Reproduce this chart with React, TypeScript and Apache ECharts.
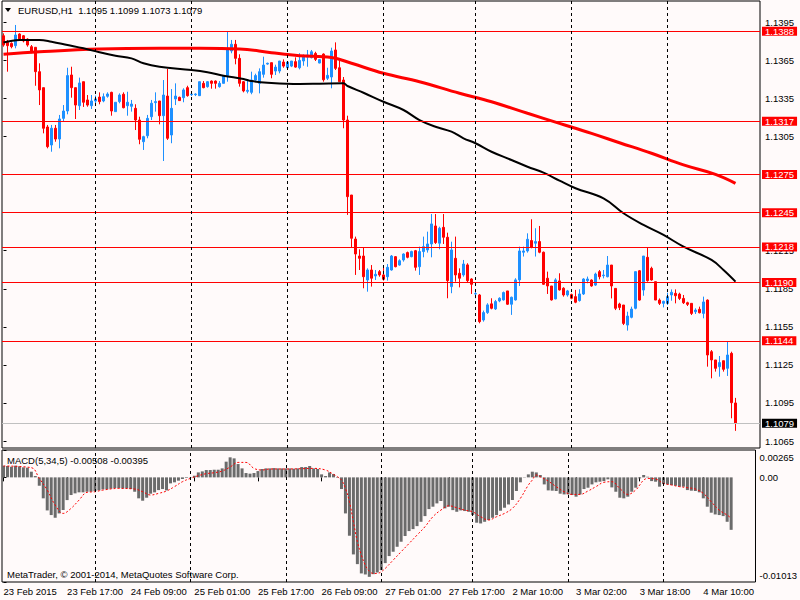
import React, { useEffect, useRef } from 'react';
import * as echarts from 'echarts';

const FONT = '"Liberation Sans", Arial, sans-serif';

// Hourly EURUSD candles (bar index 0 = 23 Feb 01:00)
const opens = [
  1.13844, 1.13792, 1.13784, 1.13766, 1.13858, 1.13844, 1.13818, 1.13758, 1.13753, 1.13561,
  1.13435, 1.13125, 1.12983, 1.13115, 1.13030, 1.13193, 1.13251, 1.13535, 1.13435, 1.13293,
  1.13482, 1.13338, 1.13293, 1.13330, 1.13361, 1.13330, 1.13367, 1.13398, 1.13246, 1.13325,
  1.13383, 1.13293, 1.13288, 1.13272, 1.13180, 1.13009, 1.13056, 1.13206, 1.13317, 1.13330,
  1.13214, 1.13369, 1.13062, 1.13346, 1.13359, 1.13356, 1.13435, 1.13380, 1.13380, 1.13372,
  1.13469, 1.13443, 1.13487, 1.13487, 1.13443, 1.13469, 1.13530, 1.13724, 1.13777, 1.13666,
  1.13482, 1.13406, 1.13398, 1.13495, 1.13469, 1.13540, 1.13621, 1.13632, 1.13566, 1.13566,
  1.13637, 1.13592, 1.13605, 1.13640, 1.13592, 1.13645, 1.13676, 1.13671, 1.13705, 1.13629,
  1.13700, 1.13509, 1.13519, 1.13732, 1.13592, 1.13495, 1.13180, 1.12589, 1.12242, 1.12108,
  1.12108, 1.11919, 1.11998, 1.11951, 1.11985, 1.11959, 1.11945, 1.11998, 1.12103, 1.12037,
  1.12077, 1.12135, 1.12103, 1.12150, 1.12024, 1.12143, 1.12156, 1.12203, 1.12345, 1.12209,
  1.12334, 1.12256, 1.11867, 1.12090, 1.11972, 1.11959, 1.12038, 1.11927, 1.11809, 1.11801,
  1.11604, 1.11662, 1.11731, 1.11691, 1.11754, 1.11762, 1.11833, 1.11728, 1.11762, 1.11920,
  1.12138, 1.12148, 1.12230, 1.12209, 1.12222, 1.12138, 1.11933, 1.11872, 1.11770, 1.11912,
  1.11854, 1.11801, 1.11804, 1.11788, 1.11757, 1.11809, 1.11914, 1.11919, 1.11879, 1.11985,
  1.11953, 1.11945, 1.12037, 1.11853, 1.11730, 1.11722, 1.11564, 1.11625, 1.11696, 1.11992,
  1.11840, 1.12098, 1.12011, 1.11906, 1.11761, 1.11735, 1.11735, 1.11801, 1.11814, 1.11808,
  1.11774, 1.11740, 1.11735, 1.11669, 1.11688, 1.11656, 1.11761, 1.11354, 1.11289, 1.11236,
  1.11283, 1.11223, 1.11341, 1.10950,
];
const highs = [
  1.13863, 1.13811, 1.13792, 1.13929, 1.13863, 1.13850, 1.13824, 1.13771, 1.13753, 1.13627,
  1.13435, 1.13141, 1.13141, 1.13141, 1.13220, 1.13298, 1.13592, 1.13600, 1.13435, 1.13514,
  1.13482, 1.13377, 1.13377, 1.13372, 1.13398, 1.13390, 1.13398, 1.13403, 1.13320, 1.13390,
  1.13398, 1.13403, 1.13338, 1.13304, 1.13206, 1.13056, 1.13220, 1.13338, 1.13398, 1.13330,
  1.13495, 1.13582, 1.13424, 1.13469, 1.13364, 1.13430, 1.13450, 1.13398, 1.13390, 1.13482,
  1.13487, 1.13487, 1.13492, 1.13492, 1.13487, 1.13535, 1.13881, 1.13811, 1.13811, 1.13698,
  1.13487, 1.13495, 1.13561, 1.13545, 1.13587, 1.13679, 1.13632, 1.13632, 1.13616, 1.13645,
  1.13658, 1.13637, 1.13645, 1.13674, 1.13706, 1.13697, 1.13732, 1.13732, 1.13718, 1.13658,
  1.13705, 1.13592, 1.13750, 1.13792, 1.13666, 1.13519, 1.13214, 1.12589, 1.12261, 1.12161,
  1.12177, 1.12011, 1.12037, 1.11998, 1.11998, 1.12030, 1.12045, 1.12116, 1.12108, 1.12082,
  1.12129, 1.12143, 1.12150, 1.12156, 1.12182, 1.12261, 1.12300, 1.12439, 1.12439, 1.12339,
  1.12439, 1.12292, 1.12221, 1.12261, 1.12011, 1.12077, 1.12051, 1.11933, 1.11841, 1.11809,
  1.11678, 1.11736, 1.11775, 1.11762, 1.11783, 1.11828, 1.11833, 1.11788, 1.11933, 1.12182,
  1.12182, 1.12287, 1.12398, 1.12327, 1.12345, 1.12143, 1.11985, 1.11872, 1.11933, 1.11972,
  1.11862, 1.11841, 1.11812, 1.11841, 1.11846, 1.11933, 1.11946, 1.11924, 1.11977, 1.11998,
  1.11998, 1.12108, 1.12037, 1.11853, 1.11740, 1.11722, 1.11669, 1.11709, 1.11985, 1.11998,
  1.12108, 1.12176, 1.12024, 1.11906, 1.11774, 1.11756, 1.11819, 1.11845, 1.11845, 1.11819,
  1.11801, 1.11748, 1.11735, 1.11696, 1.11709, 1.11788, 1.11766, 1.11367, 1.11289, 1.11320,
  1.11283, 1.11433, 1.11354, 1.10990,
];
const lows = [
  1.13758, 1.13561, 1.13745, 1.13745, 1.13811, 1.13792, 1.13758, 1.13706, 1.13450, 1.13298,
  1.13075, 1.12957, 1.12930, 1.13009, 1.12957, 1.13167, 1.13225, 1.13356, 1.13188, 1.13259,
  1.13283, 1.13285, 1.13267, 1.13293, 1.13304, 1.13320, 1.13356, 1.13214, 1.13246, 1.13312,
  1.13272, 1.13214, 1.13246, 1.13101, 1.12989, 1.12944, 1.13036, 1.13180, 1.13246, 1.13146,
  1.12857, 1.13023, 1.12997, 1.13298, 1.13330, 1.13320, 1.13364, 1.13369, 1.13369, 1.13369,
  1.13430, 1.13435, 1.13427, 1.13427, 1.13435, 1.13469, 1.13482, 1.13706, 1.13619, 1.13443,
  1.13398, 1.13390, 1.13383, 1.13482, 1.13390, 1.13514, 1.13616, 1.13509, 1.13535, 1.13548,
  1.13592, 1.13579, 1.13597, 1.13592, 1.13579, 1.13608, 1.13600, 1.13666, 1.13645, 1.13627,
  1.13482, 1.13495, 1.13430, 1.13574, 1.13482, 1.13115, 1.12432, 1.12177, 1.11959, 1.11998,
  1.11854, 1.11827, 1.11867, 1.11919, 1.11945, 1.11914, 1.11914, 1.11993, 1.12019, 1.12032,
  1.12064, 1.12090, 1.12098, 1.11993, 1.11959, 1.12098, 1.12135, 1.12098, 1.12203, 1.12161,
  1.12203, 1.11775, 1.11815, 1.11906, 1.11861, 1.11945, 1.11899, 1.11809, 1.11775, 1.11578,
  1.11591, 1.11652, 1.11688, 1.11683, 1.11744, 1.11757, 1.11723, 1.11644, 1.11757, 1.11872,
  1.12104, 1.12135, 1.12169, 1.12104, 1.12130, 1.11880, 1.11809, 1.11757, 1.11767, 1.11836,
  1.11788, 1.11788, 1.11767, 1.11736, 1.11749, 1.11801, 1.11893, 1.11866, 1.11872, 1.11924,
  1.11932, 1.11940, 1.11774, 1.11682, 1.11682, 1.11564, 1.11520, 1.11617, 1.11688, 1.11756,
  1.11795, 1.11906, 1.11914, 1.11761, 1.11722, 1.11703, 1.11722, 1.11756, 1.11735, 1.11761,
  1.11730, 1.11714, 1.11643, 1.11651, 1.11656, 1.11617, 1.11236, 1.11144, 1.11197, 1.11157,
  1.11197, 1.11163, 1.10829, 1.10730,
];
const closes = [
  1.13771, 1.13766, 1.13758, 1.13850, 1.13818, 1.13803, 1.13771, 1.13724, 1.13561, 1.13417,
  1.13115, 1.12970, 1.13115, 1.13030, 1.13188, 1.13251, 1.13530, 1.13435, 1.13298, 1.13472,
  1.13320, 1.13298, 1.13330, 1.13346, 1.13325, 1.13364, 1.13385, 1.13251, 1.13320, 1.13377,
  1.13277, 1.13320, 1.13306, 1.13180, 1.13028, 1.13049, 1.13193, 1.13312, 1.13325, 1.13214,
  1.13377, 1.13036, 1.13272, 1.13369, 1.13333, 1.13417, 1.13372, 1.13385, 1.13385, 1.13482,
  1.13435, 1.13482, 1.13469, 1.13469, 1.13469, 1.13530, 1.13732, 1.13777, 1.13666, 1.13469,
  1.13409, 1.13414, 1.13495, 1.13530, 1.13561, 1.13613, 1.13627, 1.13540, 1.13597, 1.13645,
  1.13605, 1.13637, 1.13645, 1.13597, 1.13650, 1.13684, 1.13692, 1.13718, 1.13658, 1.13656,
  1.13497, 1.13532, 1.13724, 1.13587, 1.13482, 1.13180, 1.12576, 1.12248, 1.12124, 1.12090,
  1.11945, 1.11998, 1.11933, 1.11964, 1.11959, 1.11925, 1.12019, 1.12108, 1.12024, 1.12071,
  1.12124, 1.12098, 1.12143, 1.12019, 1.12143, 1.12182, 1.12203, 1.12361, 1.12214, 1.12327,
  1.12256, 1.11914, 1.12156, 1.11959, 1.11933, 1.12045, 1.11914, 1.11885, 1.11812, 1.11591,
  1.11662, 1.11723, 1.11696, 1.11749, 1.11775, 1.11820, 1.11728, 1.11783, 1.11920, 1.12148,
  1.12148, 1.12240, 1.12177, 1.12222, 1.12138, 1.11885, 1.11872, 1.11762, 1.11920, 1.11841,
  1.11801, 1.11833, 1.11775, 1.11744, 1.11809, 1.11927, 1.11927, 1.11872, 1.11966, 1.11945,
  1.11958, 1.12037, 1.11872, 1.11696, 1.11703, 1.11577, 1.11635, 1.11690, 1.11985, 1.11761,
  1.12108, 1.11914, 1.11919, 1.11761, 1.11735, 1.11751, 1.11788, 1.11822, 1.11795, 1.11774,
  1.11740, 1.11727, 1.11656, 1.11682, 1.11661, 1.11746, 1.11328, 1.11289, 1.11223, 1.11268,
  1.11215, 1.11328, 1.10952, 1.10790,
];

// Moving averages, read at sample bars
const redMaBars = [0, 9, 24, 39, 49, 59, 67, 74, 82, 87, 95, 104, 114, 122, 131, 139, 147, 154, 162, 170, 178, 183];
const redMaValues = [1.13698, 1.13718, 1.13740, 1.13745, 1.13745, 1.13740, 1.13710, 1.13687, 1.13673, 1.13627, 1.13548, 1.13482, 1.13391, 1.13324, 1.13233, 1.13154, 1.13075, 1.13001, 1.12918, 1.12826, 1.12752, 1.12681];
const blackMaBars = [0, 4, 9, 12, 16, 20, 24, 28, 32, 35, 39, 47, 51, 55, 60, 62, 66, 74, 79, 85, 86, 90, 95, 100, 104, 108, 112, 115, 118, 122, 127, 131, 135, 139, 143, 150, 155, 160, 165, 170, 177, 180, 183];
const blackMaValues = [1.13791, 1.13811, 1.13811, 1.13797, 1.13771, 1.13745, 1.13714, 1.13687, 1.13666, 1.13627, 1.13600, 1.13574, 1.13556, 1.13529, 1.13503, 1.13487, 1.13474, 1.13464, 1.13466, 1.13469, 1.13448, 1.13395, 1.13324, 1.13259, 1.13180, 1.13127, 1.13088, 1.13036, 1.12997, 1.12930, 1.12865, 1.12812, 1.12765, 1.12702, 1.12642, 1.12563, 1.12445, 1.12353, 1.12274, 1.12182, 1.12077, 1.11998, 1.11906];

// MACD(5,34,5) histogram, one value per bar
const macdHist = [
  0.00113, 0.00110, 0.00103, 0.00113, 0.00107, 0.00097, 0.00094, 0.00055, 0.00013, -0.00081,
  -0.00203, -0.00320, -0.00365, -0.00391, -0.00349, -0.00317, -0.00220, -0.00171, -0.00155, -0.00145,
  -0.00145, -0.00139, -0.00139, -0.00132, -0.00126, -0.00116, -0.00116, -0.00110, -0.00103, -0.00103,
  -0.00107, -0.00107, -0.00113, -0.00139, -0.00203, -0.00226, -0.00197, -0.00158, -0.00145, -0.00123,
  -0.00113, -0.00126, -0.00058, -0.00048, -0.00032, -0.00016, -0.00006, 0.00003, 0.00016, 0.00048,
  0.00058, 0.00071, 0.00071, 0.00074, 0.00074, 0.00087, 0.00152, 0.00194, 0.00184, 0.00129,
  0.00087, 0.00042, 0.00036, 0.00042, 0.00061, 0.00081, 0.00087, 0.00087, 0.00090, 0.00087,
  0.00087, 0.00087, 0.00087, 0.00084, 0.00087, 0.00100, 0.00100, 0.00110, 0.00087, 0.00081,
  0.00029, 0.00013, 0.00048, 0.00032, -0.00005, -0.00113, -0.00349, -0.00565, -0.00746, -0.00840,
  -0.00930, -0.00940, -0.00963, -0.00937, -0.00921, -0.00898, -0.00830, -0.00762, -0.00720, -0.00672,
  -0.00623, -0.00568, -0.00520, -0.00501, -0.00472, -0.00430, -0.00375, -0.00307, -0.00284, -0.00252,
  -0.00229, -0.00300, -0.00284, -0.00317, -0.00333, -0.00320, -0.00326, -0.00333, -0.00365, -0.00439,
  -0.00446, -0.00430, -0.00413, -0.00391, -0.00365, -0.00323, -0.00294, -0.00262, -0.00220, -0.00132,
  -0.00048, -0.00003, 0.00029, 0.00055, 0.00048, 0.00023, -0.00068, -0.00126, -0.00129, -0.00132,
  -0.00158, -0.00165, -0.00165, -0.00171, -0.00187, -0.00165, -0.00113, -0.00100, -0.00068, -0.00048,
  -0.00042, -0.00036, -0.00019, -0.00097, -0.00139, -0.00197, -0.00203, -0.00187, -0.00139, -0.00100,
  -0.00010, 0.00023, 0.00006, -0.00036, -0.00042, -0.00090, -0.00065, -0.00068, -0.00074, -0.00081,
  -0.00090, -0.00090, -0.00123, -0.00129, -0.00132, -0.00145, -0.00203, -0.00284, -0.00342, -0.00359,
  -0.00365, -0.00375, -0.00430, -0.00508,
];
const signalBars = [0, 7, 9, 11, 13, 15, 17, 19, 21, 23, 25, 29, 33, 35, 37, 39, 41, 43, 45, 47, 49, 51, 53, 55, 57, 59, 61, 63, 65, 67, 71, 75, 78, 81, 83, 84, 85, 86, 87, 88, 89, 90, 91, 92, 93, 94, 95, 96, 98, 100, 102, 104, 106, 108, 110, 112, 114, 116, 118, 120, 122, 124, 126, 128, 130, 132, 133, 134, 135, 137, 139, 141, 143, 145, 147, 149, 151, 153, 155, 157, 159, 160, 161, 162, 164, 166, 168, 170, 172, 174, 176, 178, 180, 182, 183];
const signalValues = [0.00110, 0.00094, -0.00010, -0.00123, -0.00268, -0.00349, -0.00300, -0.00220, -0.00145, -0.00139, -0.00123, -0.00107, -0.00113, -0.00139, -0.00171, -0.00155, -0.00132, -0.00090, -0.00042, -0.00010, 0.00016, 0.00036, 0.00045, 0.00061, 0.00100, 0.00145, 0.00145, 0.00087, 0.00071, 0.00081, 0.00081, 0.00084, 0.00087, 0.00071, 0.00029, 0.00006, -0.00026, -0.00107, -0.00236, -0.00430, -0.00623, -0.00752, -0.00850, -0.00908, -0.00930, -0.00930, -0.00914, -0.00882, -0.00801, -0.00720, -0.00640, -0.00559, -0.00478, -0.00381, -0.00317, -0.00275, -0.00294, -0.00317, -0.00333, -0.00381, -0.00413, -0.00381, -0.00349, -0.00300, -0.00203, -0.00074, -0.00026, 0.00023, 0.00006, -0.00036, -0.00090, -0.00139, -0.00165, -0.00165, -0.00132, -0.00090, -0.00048, -0.00042, -0.00107, -0.00165, -0.00123, -0.00074, -0.00026, -0.00010, -0.00016, -0.00058, -0.00074, -0.00090, -0.00100, -0.00113, -0.00155, -0.00236, -0.00317, -0.00365, -0.00395];

// Axis texts
const timeLabels = ['23 Feb 2015', '23 Feb 17:00', '24 Feb 09:00', '25 Feb 01:00', '25 Feb 17:00', '26 Feb 09:00', '27 Feb 01:00', '27 Feb 17:00', '2 Mar 10:00', '3 Mar 02:00', '3 Mar 18:00', '4 Mar 10:00'];
const timeLabelBars = [0, 16, 32, 48, 64, 80, 96, 112, 128, 144, 160, 176];
const daySeparatorBars = [23, 47, 71, 95, 118, 142, 166];
const priceTicks = [1.1065, 1.1095, 1.1125, 1.1155, 1.1185, 1.1215, 1.1245, 1.1275, 1.1305, 1.1335, 1.1365, 1.1395];
const redLevels = [1.1388, 1.1317, 1.1275, 1.1245, 1.1218, 1.1190, 1.1144];
const bidLevel = 1.1079;
const macdTicks = [0.00265, 0, -0.01013];

export default function App() {
  const ref = useRef<HTMLDivElement>(null);
  useEffect(() => {
    const chart = echarts.init(ref.current!, null, { renderer: 'svg' });
    const candleData = opens.map((o, i) => [i, o, closes[i], lows[i], highs[i]]);
    const xMin = -0.375;
    const xMax = 189.125;
    const txt = { fontFamily: FONT, fontSize: 9.5, color: '#000' };
    const sepLines = daySeparatorBars.map((b) => ({
      xAxis: b,
      lineStyle: { color: '#000', width: 1, type: [3, 3] },
      label: { show: false },
    }));
    const levelLabel = (v: number, bg: string) => ({
      show: true,
      position: 'end',
      distance: 2,
      formatter: () => v.toFixed(4),
      backgroundColor: bg,
      color: '#fff',
      padding: [0, 3, 0, 3],
      fontFamily: FONT,
      fontSize: 9.5,
      lineHeight: 9,
    });
    const levelLines = redLevels.map((v) => ({
      yAxis: v,
      lineStyle: { color: '#FF0000', width: 1, type: 'solid' },
      label: levelLabel(v, '#FF0000'),
    }));
    const bidLine = {
      yAxis: bidLevel,
      lineStyle: { color: '#C0C0C0', width: 1, type: 'solid' },
      label: levelLabel(bidLevel, '#000000'),
    };

    chart.setOption({
      animation: false,
      backgroundColor: '#FFFAFA',
      title: [
        { text: 'EURUSD,H1  1.1095 1.1099 1.1073 1.1079', left: 18, top: 5, padding: 0, textStyle: { ...txt, fontWeight: 'normal' } },
        { text: 'MACD(5,34,5) -0.00508 -0.00395', left: 7, top: 455, padding: 0, textStyle: { ...txt, fontWeight: 'normal' } },
        { text: 'MetaTrader, © 2001-2014, MetaQuotes Software Corp.', left: 7, top: 569, padding: 0, textStyle: { ...txt, fontWeight: 'normal' } },
      ],
      graphic: [
        { type: 'polygon', shape: { points: [[5, 8], [11, 8], [8, 12]] }, style: { fill: '#000' } },
      ],
      grid: [
        { left: 2, top: 1, width: 758, height: 447, show: true, borderColor: '#000', borderWidth: 1, backgroundColor: 'transparent' },
        { left: 2, top: 450, width: 758, height: 132, show: true, borderColor: '#000', borderWidth: 1, backgroundColor: 'transparent' },
      ],
      xAxis: [
        { type: 'value', gridIndex: 0, min: xMin, max: xMax, show: false },
        {
          type: 'value', gridIndex: 1, min: xMin, max: xMax,
          axisLine: { show: false },
          splitLine: { show: false },
          axisTick: { show: true, customValues: timeLabelBars, length: 4, lineStyle: { color: '#000' } },
          axisLabel: {
            customValues: timeLabelBars,
            formatter: (v: number) => {
              const k = timeLabelBars.indexOf(Math.round(v));
              return k >= 0 ? timeLabels[k] : '';
            },
            align: 'left', margin: 4, ...txt,
          },
        },
      ],
      yAxis: [
        {
          type: 'value', gridIndex: 0, position: 'right', min: 1.10595, max: 1.14118,
          splitLine: { show: false }, axisLine: { show: false },
          axisTick: { show: true, customValues: priceTicks, length: 3, inside: false, lineStyle: { color: '#000' } },
          axisLabel: { customValues: priceTicks, formatter: (v: number) => v.toFixed(4), margin: 5, ...txt },
        },
        {
          type: 'value', gridIndex: 1, position: 'right', min: -0.01013, max: 0.00265,
          splitLine: { show: false }, axisLine: { show: false },
          axisTick: { show: true, customValues: macdTicks, length: 3, inside: false, lineStyle: { color: '#000' } },
          axisLabel: {
            customValues: macdTicks,
            margin: 4, ...txt,
            formatter: (v: number) => {
              if (Math.abs(v) < 1e-9) return '0.00';
              return v > 0 ? '{t|' + v.toFixed(5) + '}' : '{b|' + v.toFixed(5) + '}';
            },
            rich: {
              t: { ...txt, padding: [14, 0, 0, 0] },
              b: { ...txt, padding: [0, 0, 14, 0] },
            },
          },
        },
      ],
      series: [
        {
          type: 'candlestick', xAxisIndex: 0, yAxisIndex: 0, data: candleData, barWidth: 2,
          itemStyle: { color: '#1E90FF', color0: '#FF0000', borderColor: '#1E90FF', borderColor0: '#FF0000', borderWidth: 1 },
          silent: true,
        },
        {
          type: 'line', xAxisIndex: 0, yAxisIndex: 0, data: redMaBars.map((b, k) => [b, redMaValues[k]]),
          symbol: 'none', smooth: 0.4, silent: true, lineStyle: { color: '#FF0000', width: 3 },
        },
        {
          type: 'line', xAxisIndex: 0, yAxisIndex: 0, data: blackMaBars.map((b, k) => [b, blackMaValues[k]]),
          symbol: 'none', smooth: 0.4, silent: true, lineStyle: { color: '#000000', width: 2 },
          markLine: { silent: true, symbol: ['none', 'none'], animation: false, precision: 4, data: [...levelLines, bidLine, ...sepLines] },
        },
        {
          type: 'bar', xAxisIndex: 1, yAxisIndex: 1, data: macdHist.map((v, i) => [i, v]), barWidth: 3,
          itemStyle: { color: '#6B6B6B' }, silent: true,
        },
        {
          type: 'line', xAxisIndex: 1, yAxisIndex: 1, data: signalBars.map((b, k) => [b, signalValues[k]]),
          symbol: 'none', smooth: 0.4, silent: true, lineStyle: { color: '#FF0000', width: 1, type: [2, 2] },
          markLine: { silent: true, symbol: ['none', 'none'], animation: false, data: sepLines },
        },
      ],
    });
    return () => chart.dispose();
  }, []);
  return (
    <div
      ref={ref}
      style={{ position: 'fixed', left: 0, top: 0, width: 800, height: 600, background: '#FFFAFA' }}
    />
  );
}
